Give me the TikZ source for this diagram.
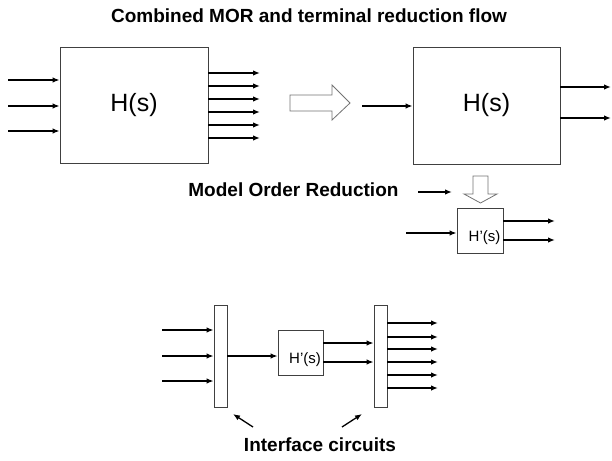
\documentclass[tikz,border=0pt]{standalone}
\usepackage{fontspec}
\setmainfont{Liberation Sans}
\usetikzlibrary{arrows.meta,positioning,calc}

\begin{document}
\begin{tikzpicture}[x=1pt, y=-1pt,
    blk/.style={draw=black!75, line width=0.8pt, inner sep=0pt},
    sig/.style={line width=1.5pt, -{Latex[length=7pt,width=5.5pt]}},
    hollow/.style={draw=black!55, line width=0.8pt, fill=white, line join=miter},
    lbl/.style={font=\bfseries\fontsize{19}{22}\selectfont}]
\useasboundingbox (0,0) rectangle (612,460);
% title
\node[lbl] (title) at (309,16) {Combined MOR and terminal reduction flow};
% full system
\node[blk, minimum width=148pt, minimum height=116pt, font=\fontsize{25}{30}\selectfont] (hfull) at (134,105) {H(s)};
\foreach \y [count=\i] in {80,106,131} {
    \coordinate (inA\i) at (8,\y);
    \draw[sig] (inA\i) -- (inA\i -| hfull.west);
}
\foreach \y [count=\i] in {73,86,99,112,125,138} {
    \coordinate (outA\i) at (260,\y);
    \draw[sig] (outA\i -| hfull.east) -- (outA\i);
}
\draw[hollow] (290,95) -- (332,95) -- (332,85) -- (350,103) -- (332,120) -- (332,111) -- (290,111) -- cycle;
% terminal reduced system
\node[blk, minimum width=147pt, minimum height=117pt, font=\fontsize{25}{30}\selectfont] (hterm) at (486.5,105.5) {H(s)};
\coordinate (inB) at (362,106);
\draw[sig] (inB) -- (inB -| hterm.west);
\foreach \y [count=\i] in {87,118} {
    \coordinate (outB\i) at (611,\y);
    \draw[sig] (outB\i -| hterm.east) -- (outB\i);
}
% model order reduction
\node[lbl, anchor=east] (mor) at (402,190) {Model Order Reduction};
\coordinate (morA) at (418,192);
\coordinate (morB) at (452,192);
\draw[sig] (morA) -- (morB);
\draw[hollow] (473,176) -- (488,176) -- (488,194) -- (497,194) -- (480.5,203) -- (464,194) -- (473,194) -- cycle;
\node[blk, minimum width=46pt, minimum height=45pt, text height=22pt, text depth=0pt, font=\fontsize{15}{18}\selectfont] (hred) at (480,230.5) {\hspace{9pt}H'(s)};
\coordinate (inC) at (406,233);
\draw[sig] (inC) -- (inC -| hred.west);
\foreach \y [count=\i] in {221,240} {
    \coordinate (outC\i) at (555,\y);
    \draw[sig] (outC\i -| hred.east) -- (outC\i);
}
% with interface circuits
\node[blk, minimum width=13pt, minimum height=102pt] (ifin) at (220.5,356) {};
\node[blk, minimum width=13pt, minimum height=102pt] (ifout) at (380.5,356) {};
\node[blk, minimum width=45pt, minimum height=45pt, text height=22pt, text depth=0pt, font=\fontsize{15}{18}\selectfont] (hsub) at (300.5,352.5) {\hspace{9pt}H'(s)};
\foreach \y [count=\i] in {330,356,381} {
    \coordinate (inD\i) at (162,\y);
    \draw[sig] (inD\i) -- (inD\i -| ifin.west);
}
\draw[sig] (ifin.east) -- (ifin.east -| hsub.west);
\foreach \y [count=\i] in {343,362} {
    \coordinate (midD\i) at (hsub.east |- 0,\y);
    \draw[sig] (midD\i) -- (midD\i -| ifout.west);
}
\foreach \y [count=\i] in {323,337,349,362,375,388} {
    \coordinate (outD\i) at (438,\y);
    \draw[sig] (outD\i -| ifout.east) -- (outD\i);
}
\node[lbl] (iface) at (320,445) {Interface circuits};
\coordinate (ptA) at (253,427);
\coordinate (ptB) at (342,427);
\draw[sig, line width=1.3pt] (ptA) -- (233,414);
\draw[sig, line width=1.3pt] (ptB) -- (362,414);
\end{tikzpicture}
\end{document}
